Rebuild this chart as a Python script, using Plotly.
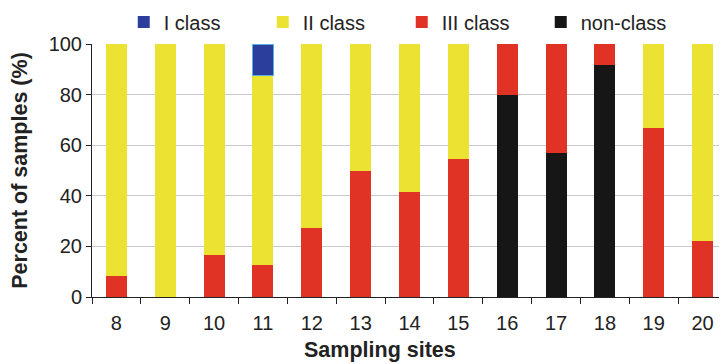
import plotly.graph_objects as go

sites = ["8", "9", "10", "11", "12", "13", "14", "15", "16", "17", "18", "19", "20"]
non_class = [0, 0, 0, 0, 0, 0, 0, 0, 80.0, 57.1, 91.7, 0, 0]
class_iii = [8.3, 0, 16.7, 12.5, 27.3, 50.0, 41.7, 54.5, 20.0, 42.9, 8.3, 66.7, 22.2]
class_ii = [91.7, 100, 83.3, 75.0, 72.7, 50.0, 58.3, 45.5, 0, 0, 0, 33.3, 77.8]
class_i = [0, 0, 0, 12.5, 0, 0, 0, 0, 0, 0, 0, 0, 0]

FONT = "Liberation Sans, Arial, sans-serif"

fig = go.Figure()
fig.add_trace(go.Bar(x=sites, y=non_class, name="non-class",
                     marker=dict(color="#161616", line=dict(width=0))))
fig.add_trace(go.Bar(x=sites, y=class_iii, name="III class",
                     marker=dict(color="#e13325", line=dict(width=0))))
fig.add_trace(go.Bar(x=sites, y=class_ii, name="II class",
                     marker=dict(color="#ebe232", line=dict(width=0))))
fig.add_trace(go.Bar(x=sites, y=class_i, name="I class",
                     marker=dict(color="#2c3e9c",
                                 line=dict(width=[1.5 if v > 0 else 0 for v in class_i],
                                           color="#5aaee0"))))

# the page body adds an 8px offset, so the figure is sized to fill the rest of the window
fig.update_layout(
    width=719, height=356,
    barmode="stack", bargap=0.57,
    plot_bgcolor="white", paper_bgcolor="white",
    margin=dict(l=84, r=0, t=36, b=67, autoexpand=False),
    font=dict(family=FONT, size=20, color="#222222"),
    showlegend=True,
    legend=dict(orientation="h", traceorder="reversed",
                x=0.05, xanchor="left", y=1.087, yanchor="middle",
                entrywidth=94, entrywidthmode="pixels",
                font=dict(size=20, family=FONT, color="#222222"),
                bgcolor="rgba(0,0,0,0)", itemwidth=30),
    annotations=[dict(text="<b>Sampling sites</b>", xref="paper", yref="paper",
                      x=0.4535, y=-0.21, xanchor="center", yanchor="middle",
                      showarrow=False, font=dict(size=21.5, family=FONT, color="#222222"))],
)
fig.update_xaxes(
    type="category", showline=True, linecolor="#222222", linewidth=1,
    ticks="outside", tickson="boundaries", ticklen=6, tickcolor="#222222",
    tickfont=dict(size=20, family=FONT), ticklabelstandoff=8,
    showgrid=False, automargin=False,
)
fig.update_yaxes(
    range=[0, 100], tickvals=[0, 20, 40, 60, 80, 100],
    showline=True, linecolor="#222222", linewidth=1,
    ticks="outside", ticklen=5, tickcolor="#222222",
    tickfont=dict(size=20, family=FONT),
    showgrid=True, gridcolor="#c8c8c8", gridwidth=1.2,
    title=dict(text="<b>Percent of samples (%)</b>", font=dict(size=21.5, family=FONT), standoff=18),
    zeroline=False, automargin=False,
)

fig.write_html("out.html")
